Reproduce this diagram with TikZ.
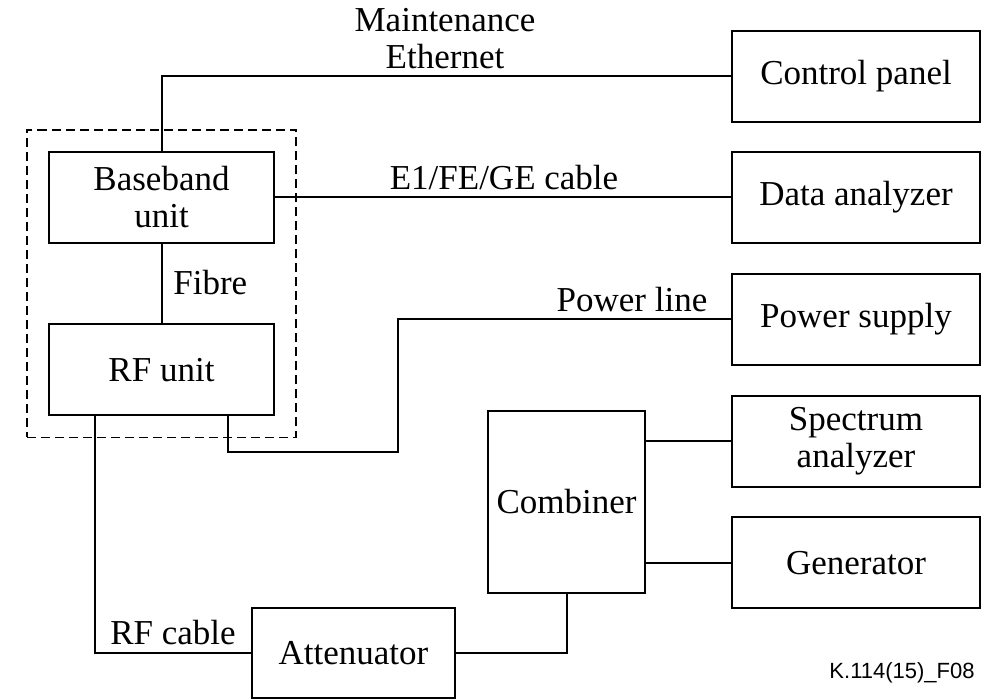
\documentclass[tikz,border=0pt]{standalone}
\usepackage{fontspec}
\setmainfont{Liberation Serif}
\newfontfamily\tagfont{Liberation Sans}
\usetikzlibrary{positioning, fit}

\begin{document}
\begin{tikzpicture}[
    x=0.5pt, y=-0.5pt,
    unit/.style={draw, line width=1pt, inner sep=0pt, align=center,
                 font=\fontsize{17.5}{18.5}\selectfont},
    side unit/.style={unit, minimum width=124pt, minimum height=45.5pt},
    bts unit/.style={unit, minimum width=112.5pt, minimum height=45.5pt},
    annot/.style={inner sep=0pt, align=center,
                  font=\fontsize{17.5}{18.5}\selectfont},
    link/.style={line width=1pt},
    group/.style={draw, line width=0.9pt, dash pattern=on 4.5pt off 2.5pt,
                  inner sep=10.5pt}
  ]
    \useasboundingbox (0,0) rectangle (987,700);

    % Base station under test
    \node[bts unit] (base) at (161.5,197.5) {Baseband\\unit};
    \node[bts unit] (rf)   at (161.5,370)   {RF unit};
    \node[group, fit=(base)(rf)] (bts) {};

    % Test instruments (right column)
    \node[side unit] (ctrl)  at (856,76.5)  {Control panel};
    \node[side unit] (data)  at (856,197.5) {Data analyzer};
    \node[side unit] (power) at (856,319.5) {Power supply};
    \node[side unit] (spec)  at (856,441.5) {Spectrum\\analyzer};
    \node[side unit] (gen)   at (856,563)   {Generator};

    % RF chain
    \node[unit, minimum width=78.5pt, minimum height=91pt] (comb)
      at (566.5,502) {Combiner};
    \node[unit, minimum width=101.5pt, minimum height=45pt] (atten)
      at (353.5,653.5) {Attenuator};

    % Connections
    \draw[link] (base.north) |- (ctrl.west);
    \draw[link] (base.east) -- (data.west);
    \draw[link] (base.south) -- (rf.north);
    \coordinate (pwr-bend) at (398,452);
    \draw[link] (rf.south -| 228,0) |- (pwr-bend) |- (power.west);
    \draw[link] (rf.south -| 95,0) |- (atten.west);
    \draw[link] (atten.east) -| (comb.south);
    \draw[link] (comb.east |- spec.west) -- (spec.west);
    \draw[link] (comb.east |- gen.west) -- (gen.west);

    % Cable labels
    \node[annot, anchor=south] (lbl-maint) at (445,69) {Maintenance\\Ethernet};
    \node[annot, anchor=base] (lbl-e1) at (504,190) {E1/FE/GE cable};
    \node[annot, anchor=base west] (lbl-fibre) at (173,295) {Fibre};
    \node[annot, anchor=base] (lbl-power) at (632,312) {Power line};
    \node[annot, anchor=base] (lbl-rf) at (173,645) {RF cable};

    % Figure tag
    \node[anchor=east, inner sep=0pt, font=\tagfont\fontsize{11}{13}\selectfont]
      (tag) at (975,673) {K.114(15)\_F08};
\end{tikzpicture}
\end{document}
